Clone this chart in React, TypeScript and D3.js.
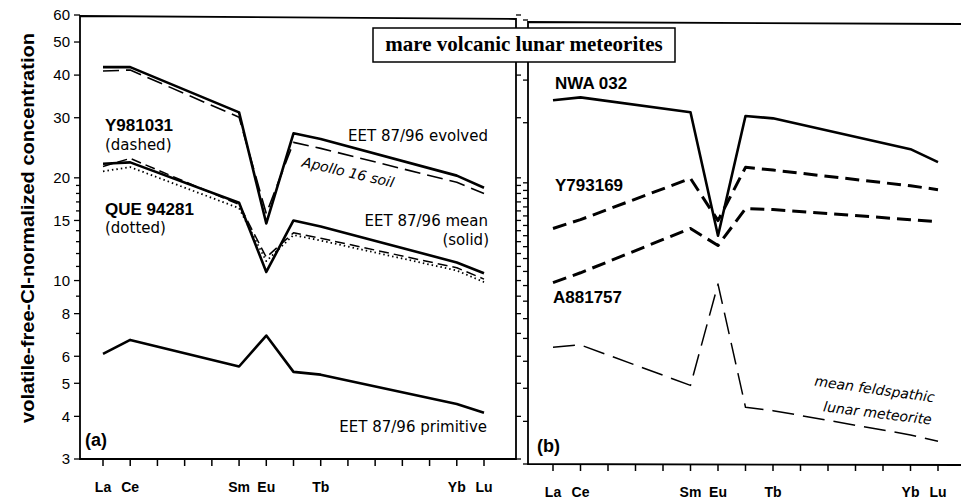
import React from "react";
import * as d3 from "d3";

// ---------- data ----------
const elements = ["La", "Ce", "Pr", "Nd", "Pm", "Sm", "Eu", "Gd", "Tb", "Dy", "Ho", "Er", "Tm", "Yb", "Lu"];
const labeledElements = ["La", "Ce", "Sm", "Eu", "Tb", "Yb", "Lu"];
const measuredElements = ["La", "Ce", "Sm", "Eu", "Gd", "Tb", "Yb", "Lu"];
const yTickValues = [3, 4, 5, 6, 7, 8, 9, 10, 11, 12, 13, 14, 15, 16, 17, 18, 19, 20, 30, 40, 50, 60];
const yTickLabels = [3, 4, 5, 6, 8, 10, 15, 20, 30, 40, 50, 60];

// panel (a)
const eetEvolved = [42.2, 42.2, 31.1, 14.7, 27.0, 26.0, 20.3, 18.7];
const apollo16Soil = [41.1, 41.4, 30.1, 15.7, 25.4, 24.4, 19.4, 18.0];
const eetMean = [22.0, 22.2, 16.9, 10.6, 15.0, 14.4, 11.3, 10.5];
const y981031 = [21.6, 22.8, 16.7, 11.7, 13.8, 13.3, 10.9, 10.1];
const que94281 = [20.9, 21.5, 16.3, 11.4, 13.6, 13.1, 10.7, 9.9];
const eetPrimitive = [6.1, 6.7, 5.6, 6.9, 5.4, 5.3, 4.35, 4.1];

// panel (b)
const nwa032 = [34.9, 35.6, 32.2, 14.0, 31.4, 30.9, 25.1, 23.0];
const y793169 = [14.7, 15.6, 20.6, 15.5, 22.2, 21.8, 19.6, 19.1];
const a881757 = [10.2, 10.9, 14.7, 13.1, 16.8, 16.7, 15.6, 15.4];
const meanFLM = [6.6, 6.7, 5.1, 10.1, 4.4, 4.3, 3.65, 3.5];

// ---------- layout ----------
const W = 961;
const H = 502;
const PA = { left: 80, right: 516, top: 16, bottom: 459 };
const PB = { left: 528, right: 961, top: 22, bottom: 464 };

const xA = d3.scalePoint<string>().domain(elements).range([103, 484]);
const xB = d3.scalePoint<string>().domain(elements).range([553, 938]);
const yA = d3.scaleLog().domain([3, 60]).range([PA.bottom, 15]);
const yB = d3.scaleLog().domain([3, 60]).range([PB.bottom, 20]);

type Style = { width: number; dash?: string };
const SOLID: Style = { width: 2.6 };
const DASH_LONG: Style = { width: 1.6, dash: "16,7" };
const DASH_SHORT: Style = { width: 1.5, dash: "10,5" };
const DOTTED: Style = { width: 1.8, dash: "1.5,3" };
const DASH_HEAVY: Style = { width: 3, dash: "14,7" };
const DASH_THIN: Style = { width: 1.5, dash: "22,9" };

const seriesA = [
  { values: apollo16Soil, style: DASH_LONG },
  { values: que94281, style: DOTTED },
  { values: y981031, style: DASH_SHORT },
  { values: eetEvolved, style: SOLID },
  { values: eetMean, style: SOLID },
  { values: eetPrimitive, style: SOLID },
];
const seriesB = [
  { values: y793169, style: DASH_HEAVY },
  { values: a881757, style: DASH_HEAVY },
  { values: meanFLM, style: DASH_THIN },
  { values: nwa032, style: SOLID },
];

function makeLine(x: d3.ScalePoint<string>, y: d3.ScaleLogarithmic<number, number>) {
  return d3
    .line<number>()
    .x((_, i) => x(measuredElements[i]) as number)
    .y((d) => y(d));
}

const labelFont = "'DejaVu Sans', sans-serif";
const boldFont = "'Liberation Sans', Arial, sans-serif";

export default function App() {
  const lineA = makeLine(xA, yA);
  const lineB = makeLine(xB, yB);

  const yTicksLeft = yTickValues.map((v) => {
    const major = yTickLabels.includes(v);
    return (
      <line key={"l" + v} x1={PA.left - (major ? 6 : 4)} x2={PA.left} y1={yA(v)} y2={yA(v)} stroke="#000" strokeWidth={1.3} />
    );
  });
  const yTicksMidA = yTickValues.map((v) => (
    <line key={"ma" + v} x1={PA.right} x2={PA.right + 5} y1={yA(v)} y2={yA(v)} stroke="#000" strokeWidth={1.3} />
  ));
  const yTicksMidB = yTickValues.map((v) => (
    <line key={"mb" + v} x1={PB.left - 5} x2={PB.left} y1={yB(v)} y2={yB(v)} stroke="#000" strokeWidth={1.3} />
  ));

  return (
    <svg width={W} height={H} style={{ position: "absolute", left: 0, top: 0, background: "#fff" }}>
      <rect x={0} y={0} width={W} height={H} fill="#fff" />

      {/* panel frames */}
      <path
        d={`M${PA.left},${PA.top} L${PA.right},${PA.top + 3} L${PA.right},${PA.bottom} L${PA.left},${PA.bottom} Z`}
        fill="none"
        stroke="#000"
        strokeWidth={1.8}
      />
      <path
        d={`M${PB.right},${PB.top + 2} L${PB.left},${PB.top} L${PB.left},${PB.bottom} L${PB.right},${PB.bottom + 1}`}
        fill="none"
        stroke="#000"
        strokeWidth={1.8}
      />

      {yTicksLeft}
      {yTicksMidA}
      {yTicksMidB}

      {/* y tick labels */}
      {yTickLabels.map((v) => (
        <text
          key={"yl" + v}
          x={70}
          y={yA(v)}
          dy="0.35em"
          textAnchor="end"
          fontFamily={boldFont}
          fontSize={15}
        >
          {v}
        </text>
      ))}

      {/* y axis title */}
      <text
        transform="translate(34,228) rotate(-90)"
        textAnchor="middle"
        fontFamily={boldFont}
        fontWeight="bold"
        fontSize={18}
        textLength={390}
        lengthAdjust="spacingAndGlyphs"
      >
        volatile-free-CI-normalized concentration
      </text>

      {/* x ticks */}
      {elements.map((e) => (
        <line key={"xa" + e} x1={xA(e)} x2={xA(e)} y1={PA.bottom} y2={PA.bottom + 7} stroke="#000" strokeWidth={1.5} />
      ))}
      {elements.map((e) => (
        <line key={"xb" + e} x1={xB(e)} x2={xB(e)} y1={PB.bottom} y2={PB.bottom + 7} stroke="#000" strokeWidth={1.5} />
      ))}
      {labeledElements.map((e) => (
        <text key={"xla" + e} x={xA(e)} y={492} textAnchor="middle" fontFamily={boldFont} fontWeight="bold" fontSize={14}>
          {e}
        </text>
      ))}
      {labeledElements.map((e) => (
        <text key={"xlb" + e} x={xB(e)} y={497} textAnchor="middle" fontFamily={boldFont} fontWeight="bold" fontSize={14}>
          {e}
        </text>
      ))}

      {/* series */}
      {seriesA.map((s, i) => (
        <path
          key={"sa" + i}
          d={lineA(s.values) || ""}
          fill="none"
          stroke="#000"
          strokeWidth={s.style.width}
          strokeDasharray={s.style.dash}
          strokeLinejoin="round"
        />
      ))}
      {seriesB.map((s, i) => (
        <path
          key={"sb" + i}
          d={lineB(s.values) || ""}
          fill="none"
          stroke="#000"
          strokeWidth={s.style.width}
          strokeDasharray={s.style.dash}
          strokeLinejoin="round"
        />
      ))}

      {/* panel (a) labels */}
      <text x={105} y={131} fontFamily={boldFont} fontWeight="bold" fontSize={17}>Y981031</text>
      <text x={105} y={150} fontFamily={labelFont} fontSize={15}>(dashed)</text>
      <text x={105} y={215} fontFamily={boldFont} fontWeight="bold" fontSize={17}>QUE 94281</text>
      <text x={105} y={233} fontFamily={labelFont} fontSize={15}>(dotted)</text>
      <text x={488} y={141} textAnchor="end" fontFamily={labelFont} fontSize={15}>EET 87/96 evolved</text>
      <text
        transform="translate(347,177) rotate(13)"
        textAnchor="middle"
        fontFamily={labelFont}
        fontStyle="italic"
        fontSize={14}
      >
        Apollo 16 soil
      </text>
      <text x={488} y={226} textAnchor="end" fontFamily={labelFont} fontSize={15}>EET 87/96 mean</text>
      <text x={489} y={245} textAnchor="end" fontFamily={labelFont} fontSize={15}>(solid)</text>
      <text x={487} y={432} textAnchor="end" fontFamily={labelFont} fontSize={15}>EET 87/96 primitive</text>
      <text x={85} y={446} fontFamily={boldFont} fontWeight="bold" fontSize={18}>(a)</text>

      {/* panel (b) labels */}
      <text x={555} y={89} fontFamily={boldFont} fontWeight="bold" fontSize={17}>NWA 032</text>
      <text x={555} y={191} fontFamily={boldFont} fontWeight="bold" fontSize={17}>Y793169</text>
      <text x={553} y={303} fontFamily={boldFont} fontWeight="bold" fontSize={17}>A881757</text>
      <text
        transform="translate(874,394) rotate(8)"
        textAnchor="middle"
        fontFamily={labelFont}
        fontStyle="italic"
        fontSize={14}
      >
        mean feldspathic
      </text>
      <text
        transform="translate(877,418) rotate(7)"
        textAnchor="middle"
        fontFamily={labelFont}
        fontStyle="italic"
        fontSize={14}
      >
        lunar meteorite
      </text>
      <text x={537} y={452} fontFamily={boldFont} fontWeight="bold" fontSize={18}>(b)</text>

      {/* title box */}
      <rect x={373} y={28} width={302} height={34} fill="#fff" stroke="#000" strokeWidth={1.5} />
      <text x={524} y={51} textAnchor="middle" fontFamily="'Liberation Serif', serif" fontWeight="bold" fontSize={21}>
        mare volcanic lunar meteorites
      </text>
    </svg>
  );
}
